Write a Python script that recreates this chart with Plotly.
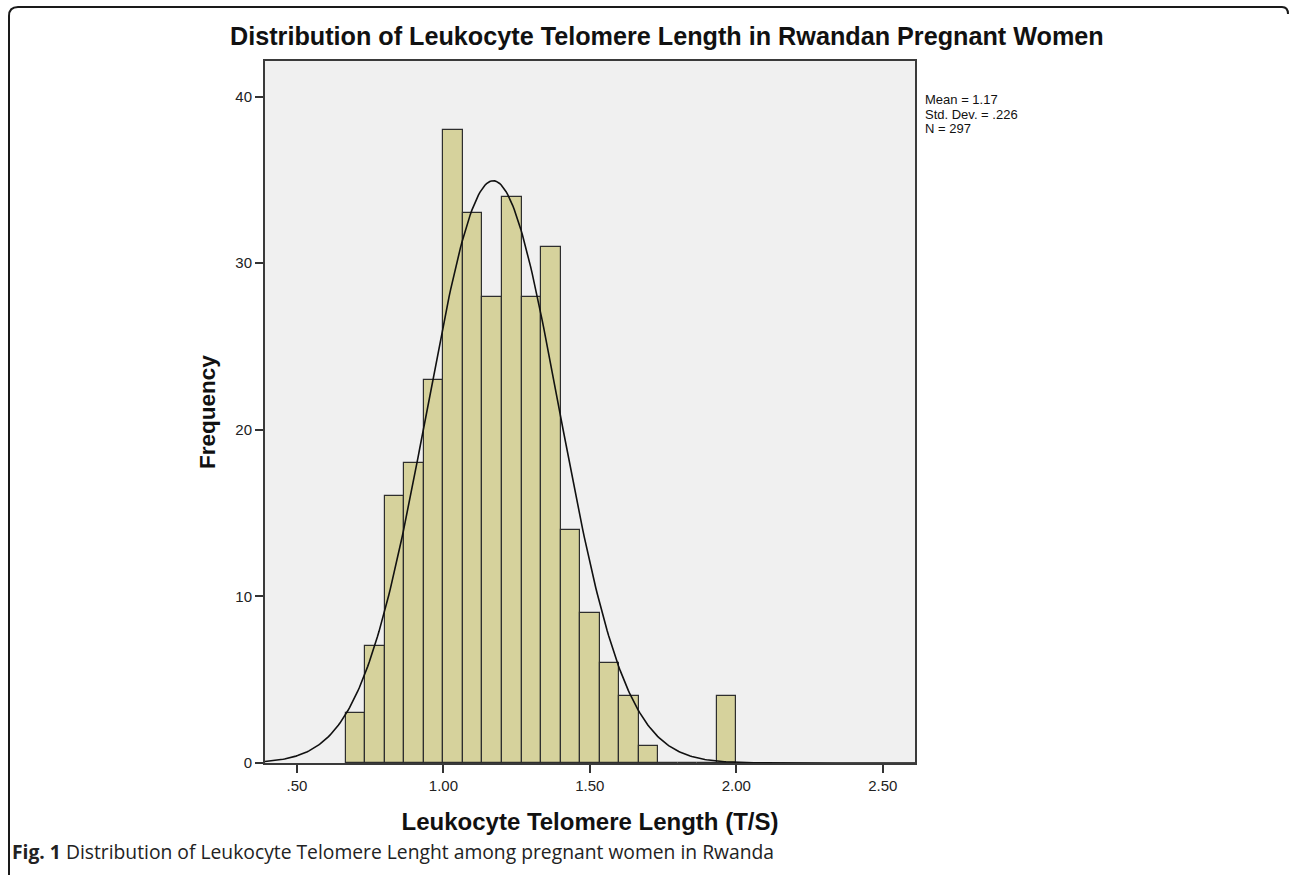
import numpy as np
import plotly.graph_objects as go

# ---- data ----
bin_start = 2 / 3          # left edge of first bin (T/S)
bin_width = 1 / 15         # bin width (T/S)
counts = [3, 7, 16, 18, 23, 38, 33, 28, 34, 28, 31, 14, 9, 6, 4, 1, 0, 0, 0, 4]
stat_mean = 1.17
stat_sd = 0.226
stat_n = 297
x_tick_vals = [0.5, 1.0, 1.5, 2.0, 2.5]
x_tick_text = [".50", "1.00", "1.50", "2.00", "2.50"]
y_tick_vals = [0, 10, 20, 30, 40]
y_tick_text = ["0", "10", "20", "30", "40"]

W, H = 1290, 875
L, R, T, B = 265, 915, 61, 763  # plot area in pixels
x_range = [0.391, 2.610]
y_range = [0, 42.14]

centers = [bin_start + bin_width * (i + 0.5) for i in range(len(counts))]

# normal curve from the reported statistics
xs = np.linspace(x_range[0], x_range[1], 400)
ys = stat_n * bin_width / (stat_sd * np.sqrt(2 * np.pi)) * np.exp(-0.5 * ((xs - stat_mean) / stat_sd) ** 2)

fig = go.Figure()
fig.add_trace(go.Bar(
    x=centers, y=counts, width=bin_width,
    marker=dict(color="#d6d29c", line=dict(color="#2e2e2e", width=1.2)),
    hoverinfo="x+y", showlegend=False,
))
fig.add_trace(go.Scatter(
    x=xs, y=ys, mode="lines", line=dict(color="#111111", width=1.6),
    showlegend=False, hoverinfo="skip",
))

def px(x):
    return (x - L) / (R - L)

def py(y):
    return (B - y) / (B - T)

# outer rounded frame (top-left rounded, right corner)
path = (f"M {px(9)},{py(880)} L {px(9)},{py(16)} "
        f"Q {px(9)},{py(7)} {px(18)},{py(7)} "
        f"L {px(1282)},{py(7)} Q {px(1288)},{py(7)} {px(1288)},{py(14)}")
shapes = [dict(type="path", xref="paper", yref="paper", path=path,
               line=dict(color="#1a1a1a", width=2))]

font_axis = "Liberation Sans, Arial, sans-serif"

stats_lines = [
    f"Mean = {stat_mean:.2f}",
    f"Std. Dev. = {str(round(stat_sd, 3)).lstrip('0')}",
    f"N = {stat_n}",
]
stats_y = [99, 114, 129]

annotations = [
    dict(text="<b>Distribution of Leukocyte Telomere Length in Rwandan Pregnant Women</b>",
         xref="paper", yref="paper", x=px(667), y=py(36),
         xanchor="center", yanchor="middle", showarrow=False,
         font=dict(family=font_axis, size=25.2, color="#111111")),
    dict(text="<b>Fig. 1</b> Distribution of Leukocyte Telomere Lenght among pregnant women in Rwanda",
         xref="paper", yref="paper", x=px(10), y=py(851),
         xanchor="left", yanchor="middle", showarrow=False,
         font=dict(family="Open Sans, sans-serif", size=19.3, color="#222222")),
]
for txt, yy in zip(stats_lines, stats_y):
    annotations.append(dict(
        text=txt, xref="paper", yref="paper", x=px(924), y=py(yy),
        xanchor="left", yanchor="middle", align="left", showarrow=False,
        borderpad=0,
        font=dict(family=font_axis, size=13, color="#111111")))

fig.update_layout(
    width=W, height=H,
    margin=dict(l=L, r=W - R, t=T, b=H - B, pad=0),
    paper_bgcolor="white",
    plot_bgcolor="#f0f0f0",
    bargap=0,
    shapes=shapes,
    xaxis=dict(
        range=x_range, tickvals=x_tick_vals, ticktext=x_tick_text,
        ticks="outside", ticklen=8, tickwidth=2, tickcolor="#333333",
        showline=True, linecolor="#3a3a3a", linewidth=2, mirror=True,
        showgrid=False, zeroline=False,
        tickfont=dict(family=font_axis, size=15, color="#222222"),
        title=dict(text="<b>Leukocyte Telomere Length (T/S)</b>",
                   font=dict(family=font_axis, size=24, color="#111111"),
                   standoff=20),
    ),
    yaxis=dict(
        range=y_range, tickvals=y_tick_vals, ticktext=y_tick_text,
        ticks="outside", ticklen=8, tickwidth=2, tickcolor="#333333",
        showline=True, linecolor="#3a3a3a", linewidth=2, mirror=True,
        showgrid=False, zeroline=False,
        tickfont=dict(family=font_axis, size=15, color="#222222"),
        title=dict(text="<b>Frequency</b>",
                   font=dict(family=font_axis, size=22.5, color="#111111"),
                   standoff=13),
    ),
    annotations=annotations,
)

fig.write_html("out.html", config={"displayModeBar": False},
               post_script="document.body.style.margin='0';")
